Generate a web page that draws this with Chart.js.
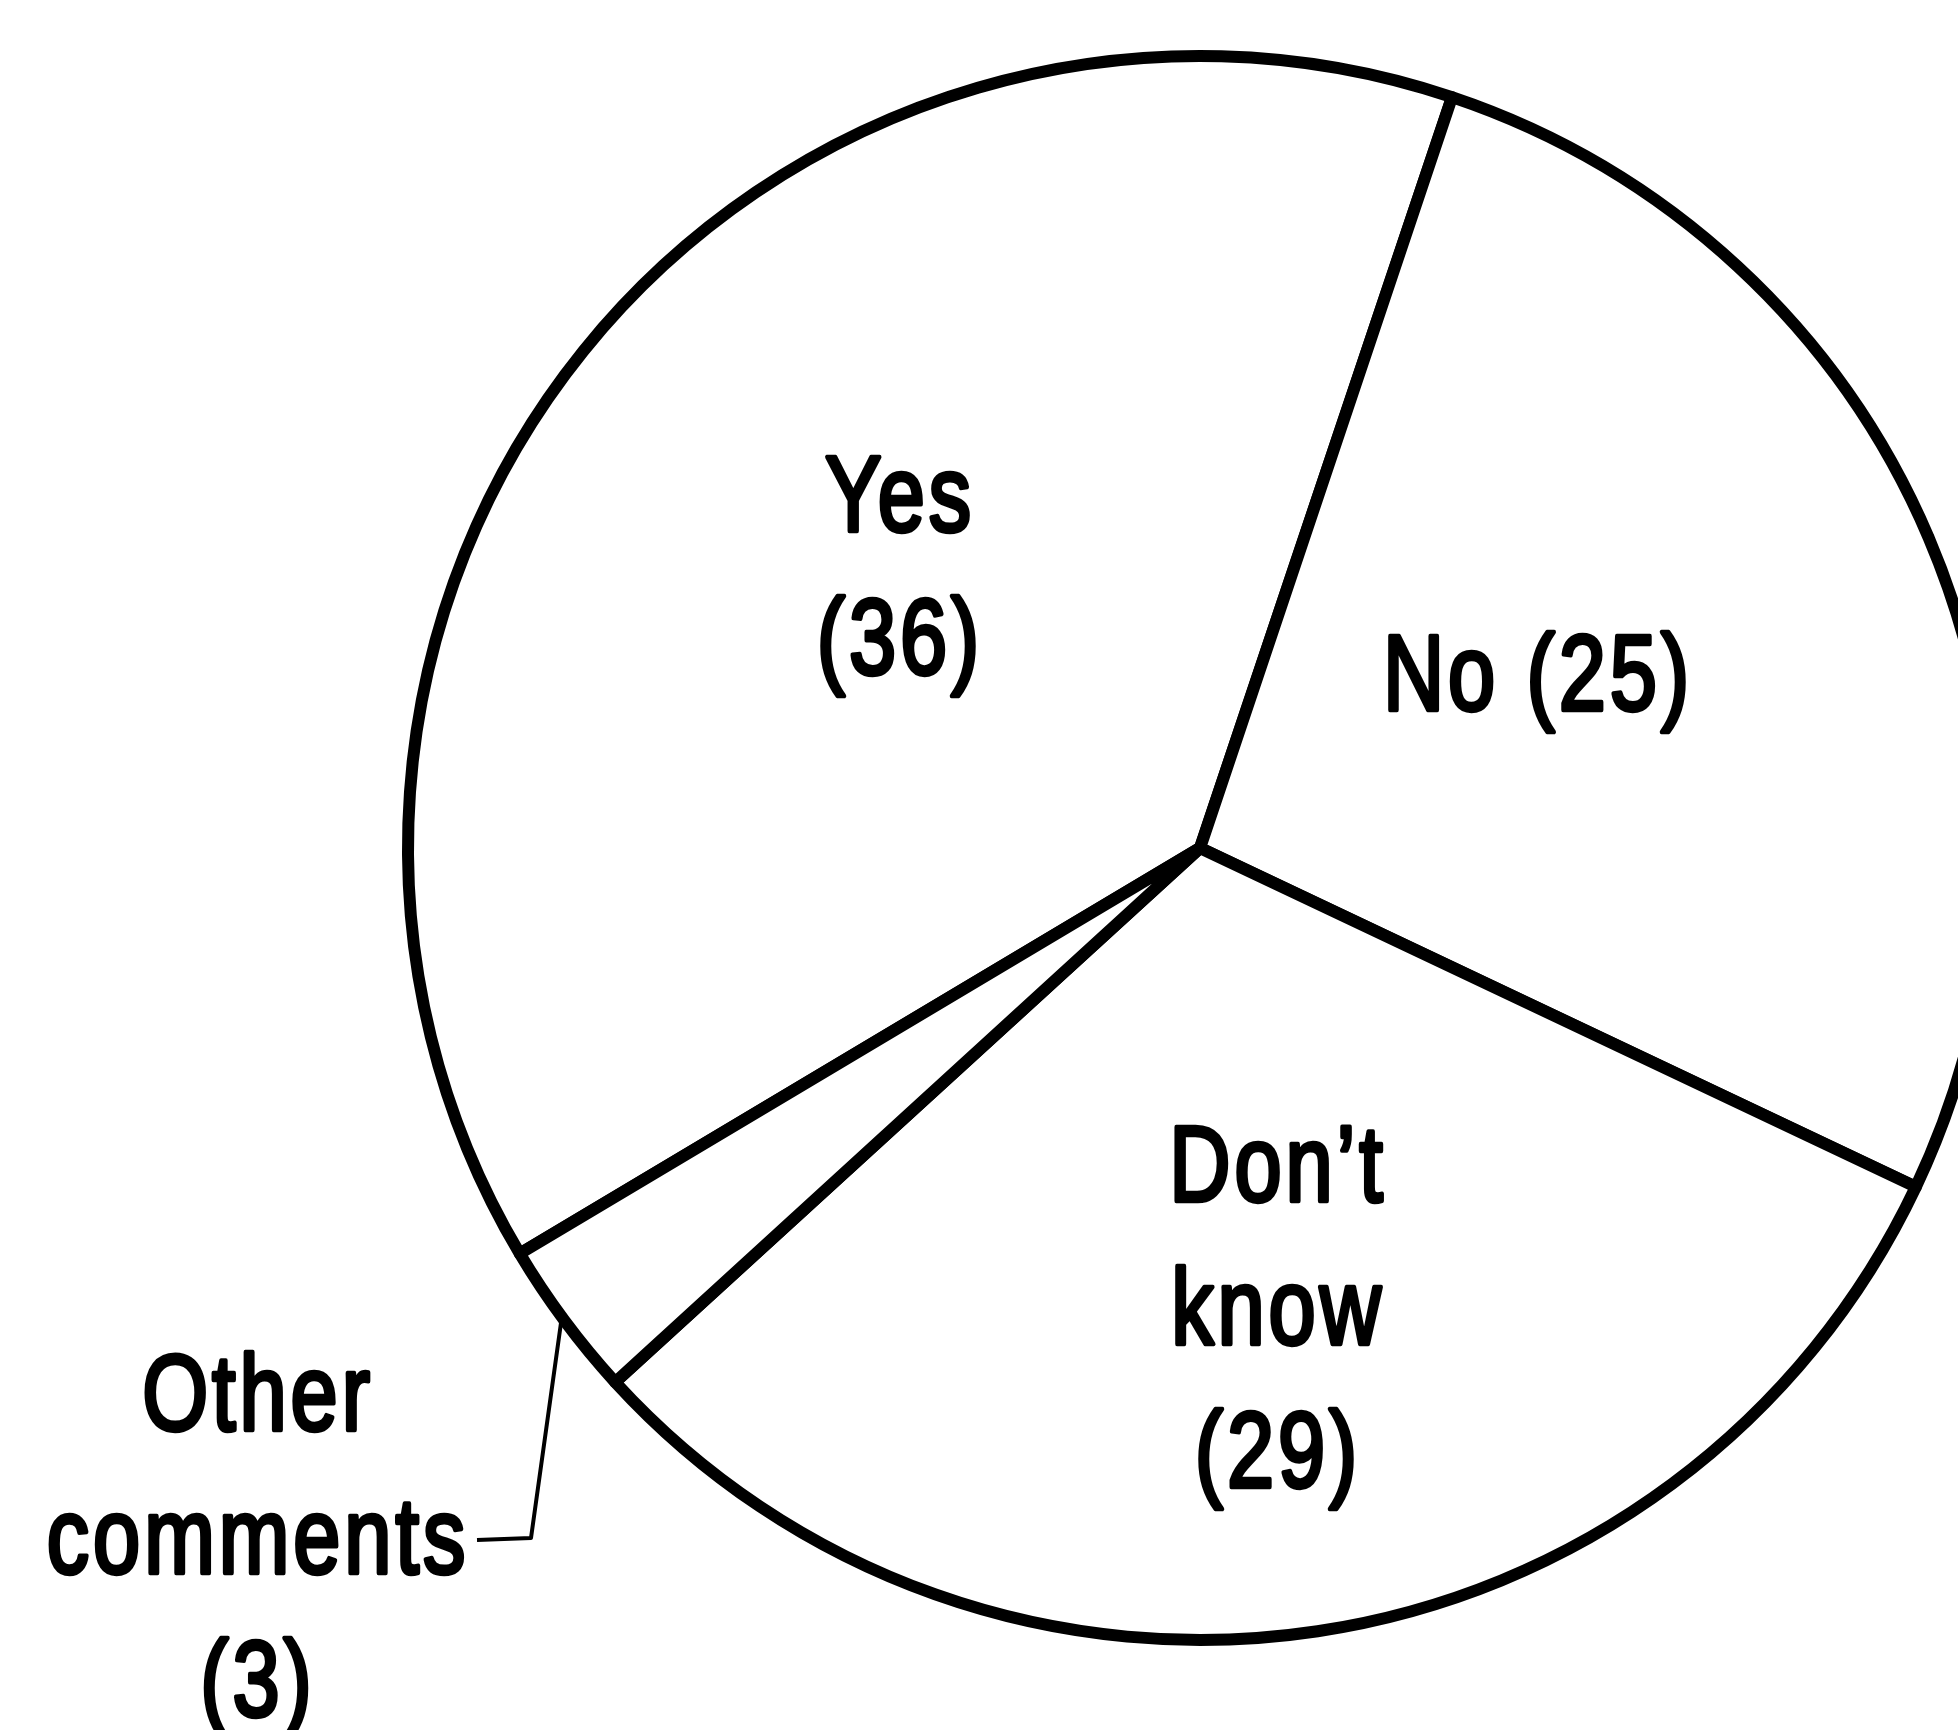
<!DOCTYPE html>
<html>
<head>
<meta charset="utf-8">
<script src="https://cdn.jsdelivr.net/npm/chart.js@4.4.1/dist/chart.umd.min.js"></script>
<style>
  html, body { margin: 0; padding: 0; background: #fff; }
  #wrap { width: 1958px; height: 1730px; position: relative; }
</style>
</head>
<body>
<div id="wrap"><canvas id="chart"></canvas></div>
<script>
const categories = ['Yes', 'No', 'Don’t know', 'Other comments'];
const counts = [36, 25, 29, 3];
// label text as printed, one entry per line
const labelLines = [
  ['Yes', '(36)'],
  ['No (25)'],
  ['Don’t', 'know', '(29)'],
  ['Other', 'comments', '(3)']
];
// first baseline of each label, offset from the pie centre (px)
const labelOffsets = [[-302, -317], [336, -138], [76, 353], [-944, 582]];

const pieLabels = {
  id: 'pieLabels',
  afterDatasetsDraw(chart) {
    const ctx = chart.ctx;
    const arcs = chart.getDatasetMeta(0).data;
    const cx = arcs[0].x, cy = arcs[0].y;
    ctx.save();
    ctx.fillStyle = '#000';
    ctx.strokeStyle = '#000';
    ctx.lineJoin = 'round';
    ctx.font = '108px "Liberation Sans", Arial, sans-serif';
    ctx.letterSpacing = '5px';
    ctx.textAlign = 'center';
    ctx.textBaseline = 'alphabetic';
    labelLines.forEach((lines, i) => {
      const [ox, oy] = labelOffsets[i];
      lines.forEach((t, j) => {
        ctx.save();
        ctx.translate(cx + ox + 2, cy + oy + j * 143);
        ctx.scale(0.785, 1);
        ctx.lineWidth = 4.5;
        ctx.fillText(t, 0, 0);
        ctx.strokeText(t, 0, 0);
        ctx.restore();
      });
    });
    // leader from "comments" up to the thin slice
    const other = arcs[3];
    const mid = (other.startAngle + other.endAngle) / 2;
    const r = other.outerRadius + 4;
    ctx.lineWidth = 4;
    ctx.beginPath();
    ctx.moveTo(cx - 723, cy + 692);
    ctx.lineTo(cx - 669, cy + 690);
    ctx.lineTo(cx + Math.cos(mid) * r, cy + Math.sin(mid) * r);
    ctx.stroke();
    ctx.restore();
  }
};

new Chart(document.getElementById('chart'), {
  type: 'pie',
  data: {
    labels: categories,
    datasets: [{
      data: counts,
      backgroundColor: '#fff',
      borderColor: '#000',
      borderWidth: 12,
      borderJoinStyle: 'round',
      radius: 792
    }]
  },
  options: {
    responsive: true,
    maintainAspectRatio: false,
    animation: false,
    events: [],
    rotation: -120.8,
    layout: { padding: { left: 442, right: 0, top: 0, bottom: 34 } },
    plugins: { legend: { display: false }, tooltip: { enabled: false } }
  },
  plugins: [pieLabels]
});
</script>
</body>
</html>
